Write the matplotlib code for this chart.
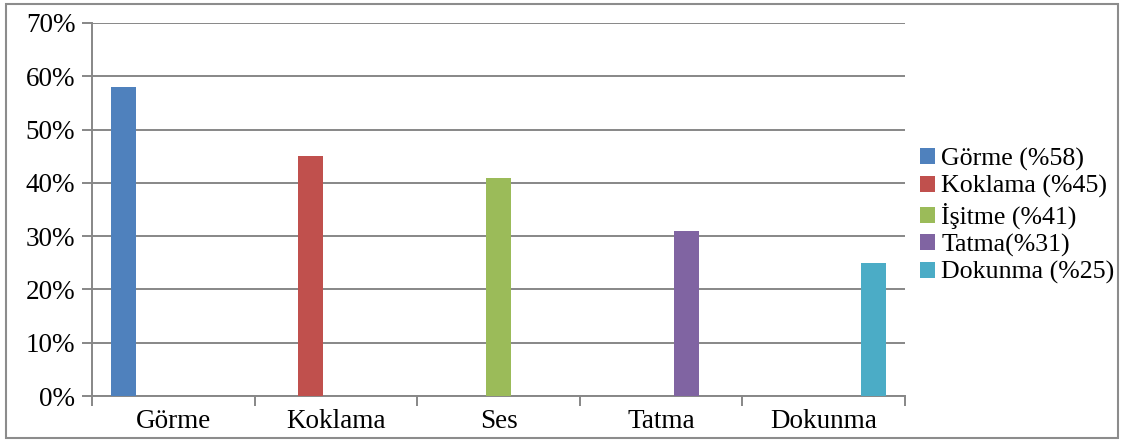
import matplotlib
matplotlib.use("Agg")
import matplotlib.pyplot as plt
from matplotlib.patches import Rectangle, Patch
from matplotlib.ticker import FixedLocator, PercentFormatter

# senses and how often each was chosen (percent)
categories = ["Görme", "Koklama", "Ses", "Tatma", "Dokunma"]
values = [58, 45, 41, 31, 25]
legend_labels = ["Görme (%58)", "Koklama (%45)", "İşitme (%41)", "Tatma(%31)", "Dokunma (%25)"]
colors = ["#4F81BD", "#C0504D", "#9BBB59", "#8064A2", "#4BACC6"]

plt.rcParams["font.family"] = ["Liberation Serif", "DejaVu Serif"]
GRID = "#878787"
FS = 19.5

fig = plt.figure(figsize=(11.22, 4.43), dpi=100)
ax = fig.add_axes([92 / 1122, 1 - 396 / 443, (905 - 92) / 1122, (396 - 23) / 443])

# clustered layout: five series per category, 150% gap width
n = len(categories)
w = 1 / (n + 1.5)
for i, (v, c) in enumerate(zip(values, colors)):
    ax.bar(i + (i - (n - 1) / 2) * w, v, width=w, color=c, zorder=3)

ax.set_xlim(-0.5, n - 0.5)
ax.set_ylim(0, 70)
ax.set_yticks(range(0, 71, 10))
ax.yaxis.set_major_formatter(PercentFormatter(decimals=0))
ax.grid(axis="y", color=GRID, linewidth=1.4, zorder=0)

ax.set_xticks(range(n))
ax.set_xticklabels(categories)
ax.xaxis.set_minor_locator(FixedLocator([i - 0.5 for i in range(n + 1)]))
ax.tick_params(axis="x", which="major", length=0, pad=9, labelsize=FS)
ax.tick_params(axis="x", which="minor", length=7, width=1.4, color=GRID, direction="out")
ax.tick_params(axis="y", length=7, width=1.4, color=GRID, direction="out", pad=5, labelsize=FS)

for side in ["top", "right"]:
    ax.spines[side].set_visible(False)
for side in ["left", "bottom"]:
    ax.spines[side].set_color(GRID)
    ax.spines[side].set_linewidth(1.4)

handles = [Patch(facecolor=c) for c in colors]
fig.legend(handles, legend_labels, loc="center left", bbox_to_anchor=(920 / 1122, 1 - 216 / 443),
           frameon=False, fontsize=18.6, handlelength=0.58, handleheight=0.58,
           handletextpad=0.25, labelspacing=0.17, borderaxespad=0, borderpad=0)

# frame around the whole chart
fig.patches.append(Rectangle((6 / 1122, 1 - 438 / 443), 1112 / 1122, 434 / 443,
                             transform=fig.transFigure, fill=False,
                             edgecolor="#8c8c8c", linewidth=1.5))

fig.savefig("out.png", dpi=100)
